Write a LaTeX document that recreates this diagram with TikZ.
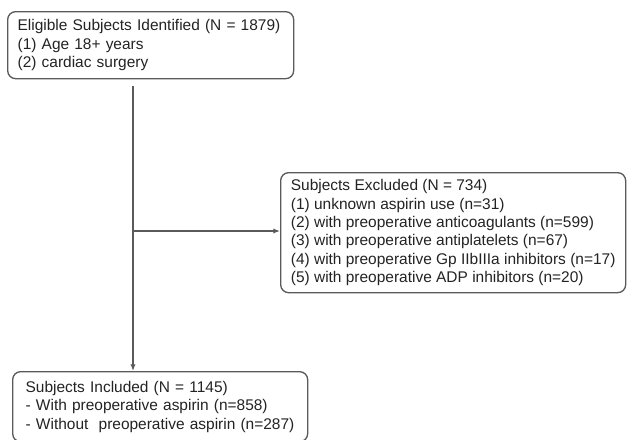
\documentclass[tikz,border=0pt]{standalone}
\usepackage{fontspec}
\setmainfont{Liberation Sans}
\usetikzlibrary{arrows.meta}
\definecolor{linegray}{RGB}{90,90,90}
\definecolor{textgray}{RGB}{35,35,35}

\begin{document}
\begin{tikzpicture}[x=0.75pt,y=-0.75pt,
  box/.style={draw=linegray,line width=1pt,rounded corners=6pt,align=left,
    anchor=north west,text=textgray,inner ysep=0pt,
    font=\fontsize{11.6}{13.8}\selectfont},
  link/.style={draw=linegray,line width=1pt,-{Latex[length=5pt,width=4pt]}}]
  \useasboundingbox (0,0) rectangle (627,439);

  \node[box,inner xsep=7.5pt,text width=199.5pt,minimum height=50.25pt] (identified) at (7,11)
    {Eligible Subjects Identified (N = 1879)\\(1) Age 18+ years\\(2) cardiac surgery};
  \node[box,inner xsep=6pt,minimum width=258.75pt,minimum height=90pt] (excluded) at (280,172)
    {Subjects Excluded (N = 734)\\
     (1) unknown aspirin use (n=31)\\
     (2) with preoperative anticoagulants (n=599)\\
     (3) with preoperative antiplatelets (n=67)\\
     (4) with preoperative Gp IIbIIIa inhibitors (n=17)\\
     (5) with preoperative ADP inhibitors (n=20)};
  \node[box,inner xsep=9.75pt,text width=201.75pt,minimum height=52.5pt] (included) at (12,371)
    {Subjects Included (N = 1145)\\
     - With preoperative aspirin (n=858)\\
     - Without\ \ preoperative aspirin (n=287)};

  \coordinate (split) at (133,231);
  \draw[link,shorten <=5.25pt] (identified.south -| split) -- (included.north -| split);
  \draw[link] (split) -- (excluded.west |- split);
\end{tikzpicture}
\end{document}
